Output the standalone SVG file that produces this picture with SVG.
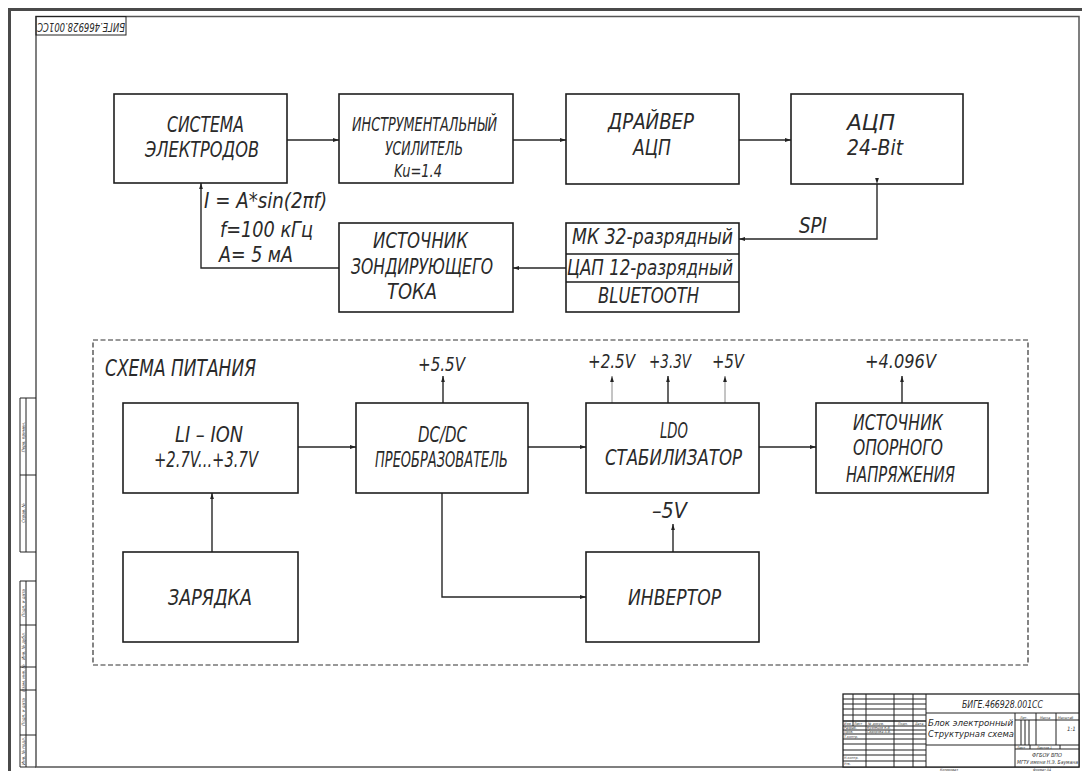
<svg xmlns="http://www.w3.org/2000/svg" width="1082" height="771" viewBox="0 0 1082 771">
<style>
.t{font-family:"Liberation Sans Narrow","DejaVu Sans Condensed","Liberation Sans",sans-serif;font-style:italic;fill:#2a2a2a}
.s{font-family:"Liberation Sans Narrow","DejaVu Sans Condensed","Liberation Sans",sans-serif;font-style:italic;fill:#333}
.box{fill:none;stroke:#1e1e1e;stroke-width:1.6}
.w{fill:none;stroke:#262626;stroke-width:1.4}
.wt{fill:none;stroke:#8a8a8a;stroke-width:1}
.fr{fill:none;stroke:#555;stroke-width:1.5}
.tb{fill:none;stroke:#222;stroke-width:1}
</style>
<defs>
<marker id="ar" markerWidth="6" markerHeight="5" refX="6" refY="2.5" orient="auto" markerUnits="userSpaceOnUse">
<path d="M0,0.6 L6,2.5 L0,4.4 z" fill="#222"/>
</marker>
</defs>
<rect width="1082" height="771" fill="#fff"/>
<!-- frame -->
<g id="frame">
<path d="M9.5,771 V9.5 H1082" fill="none" stroke="#4a4a4a" stroke-width="3"/>
<rect x="36" y="16.5" width="1043" height="750.5" class="fr"/>
<rect x="36" y="16.5" width="90" height="18.5" class="tb"/>
<text class="t" x="37" y="29.3" font-size="13" textLength="88" lengthAdjust="spacingAndGlyphs" transform="rotate(180 81 26)">БИГЕ.466928.001СС</text>
<path class="tb" d="M36,398 H20 V552 H36 M26,398 V552 M20,475 H36"/>
<path class="tb" d="M36,581 H20 V767 H36 M26,581 V767 M20,625 H36 M20,667 H36 M20,690 H36 M20,735 H36"/>
<g class="s" font-size="4.5" text-anchor="middle">
<text x="23" y="437" transform="rotate(-90 23 437)" dy="1.5">Перв. примен.</text>
<text x="23" y="513" transform="rotate(-90 23 513)" dy="1.5">Справ. №</text>
<text x="23" y="603" transform="rotate(-90 23 603)" dy="1.5">Подп. и дата</text>
<text x="23" y="646" transform="rotate(-90 23 646)" dy="1.5">Инв. № дубл.</text>
<text x="23" y="678" transform="rotate(-90 23 678)" dy="1.5">Взам. инв. №</text>
<text x="23" y="712" transform="rotate(-90 23 712)" dy="1.5">Подп. и дата</text>
<text x="23" y="751" transform="rotate(-90 23 751)" dy="1.5">Инв. № подл.</text>
</g>
</g>
<!-- title block -->
<g id="titleblock">
<rect x="843" y="694" width="236" height="73" fill="#fff" stroke="#222" stroke-width="1.3"/>
<path class="tb" d="M926,694 V767 M866,694 V767 M894,694 V767 M913,694 V767 M853,694 V726"/>
<path class="tb" d="M843,699 H926 M843,704 H926 M843,709 H926 M843,715 H926 M843,726 H926 M843,730 H926 M843,734 H926 M843,739 H926 M843,744 H926 M843,750 H926 M843,755 H926 M843,761 H926"/>
<path d="M843,721 H926" stroke="#222" stroke-width="1.6"/>
<path class="tb" d="M926,713 H1079 M926,745 H1079 M1015,720 H1079 M1015,749 H1079 M1015,713 V767 M1036,713 V745 M1056,713 V745 M1021,720 V745 M1025,720 V745 M1029,720 V745 M1030,745 V749 M1060,745 V749"/>
<g class="s" font-size="3.6">
<text x="844" y="724.5">Изм.</text><text x="854" y="724.5">Лист</text><text x="868" y="724.5">№ докум.</text><text x="898" y="724.5">Подп.</text><text x="915" y="724.5">Дата</text>
<text x="844" y="729">Разраб.</text><text x="867" y="729">Кузнецов К.В.</text>
<text x="844" y="733">Пров.</text><text x="867" y="733">Сидорова А.В.</text>
<text x="844" y="737.5">Т.контр.</text>
<text x="844" y="759">Н.контр.</text>
<text x="844" y="764.5">Утв.</text>
<text x="1020" y="718.5">Лит.</text><text x="1040" y="718.5">Масса</text><text x="1058" y="718.5">Масштаб</text>
<text x="1017" y="748.5">Лист</text><text x="1037" y="748.5">Листов 1</text>
</g>
<text class="t" x="962" y="707.5" font-size="11" textLength="81" lengthAdjust="spacingAndGlyphs">БИГЕ.466928.001СС</text>
<text class="t" x="928" y="726" font-size="9.5" textLength="85" lengthAdjust="spacingAndGlyphs">Блок электронный</text>
<text class="t" x="928" y="737" font-size="9.5" textLength="86" lengthAdjust="spacingAndGlyphs">Структурная схема</text>
<text class="s" x="1067" y="731" font-size="6">1:1</text>
<text class="s" x="1047" y="756.5" font-size="5.5" text-anchor="middle">ФГБОУ ВПО</text>
<text class="s" x="1017" y="763.5" font-size="5.5" textLength="61" lengthAdjust="spacingAndGlyphs">МГТУ имени Н.Э. Баумана</text>
<text class="s" x="940" y="770.6" font-size="3.5">Копировал</text>
<text class="s" x="1033" y="770.6" font-size="3.5">Формат A4</text>
</g>
<!-- connectors -->
<g id="connectors">
<path class="w" d="M287,140 H339" marker-end="url(#ar)"/>
<path class="w" d="M513,140 H566" marker-end="url(#ar)"/>
<path class="w" d="M739,140 H791" marker-end="url(#ar)"/>
<path class="w" d="M877,184 V239 H739" marker-start="url(#ar)" marker-end="url(#ar)"/>
<path class="w" d="M566,268 H513" marker-end="url(#ar)"/>
<path class="w" d="M339,268 H201 V183" marker-end="url(#ar)"/>
<path class="w" d="M298,447 H356" marker-end="url(#ar)"/>
<path class="w" d="M528,447 H586" marker-end="url(#ar)"/>
<path class="w" d="M759,447 H816" marker-end="url(#ar)"/>
<path class="w" d="M212,552 V493" marker-end="url(#ar)"/>
<path class="w" d="M442,493 V597 H586" marker-end="url(#ar)"/>
<path class="w" d="M443,403 V376" marker-end="url(#ar)"/>
<path class="wt" d="M612,403 V376" marker-end="url(#ar)"/>
<path class="w" d="M668,403 V376" marker-end="url(#ar)"/>
<path class="wt" d="M725,403 V376" marker-end="url(#ar)"/>
<path class="w" d="M902,403 V376" marker-end="url(#ar)"/>
<path class="w" d="M673,552 V524" marker-end="url(#ar)"/>
</g>
<!-- top section -->
<g id="n_electrodes">
<rect class="box" x="114" y="94" width="173" height="89"/>
<text class="t" x="167" y="132" font-size="21" textLength="77" lengthAdjust="spacingAndGlyphs">СИСТЕМА</text>
<text class="t" x="145" y="157" font-size="21" textLength="114" lengthAdjust="spacingAndGlyphs">ЭЛЕКТРОДОВ</text>
</g>
<g id="n_amp">
<rect class="box" x="339" y="94" width="174" height="89"/>
<text class="t" x="352" y="131" font-size="20" textLength="145" lengthAdjust="spacingAndGlyphs">ИНСТРУМЕНТАЛЬНЫЙ</text>
<text class="t" x="385" y="155" font-size="20" textLength="78" lengthAdjust="spacingAndGlyphs">УСИЛИТЕЛЬ</text>
<text class="t" x="394" y="177" font-size="18" textLength="48" lengthAdjust="spacingAndGlyphs">Ku=1.4</text>
</g>
<g id="n_driver">
<rect class="box" x="566" y="94" width="173" height="90"/>
<text class="t" x="608" y="129" font-size="21" textLength="86" lengthAdjust="spacingAndGlyphs">ДРАЙВЕР</text>
<text class="t" x="633" y="155" font-size="21" textLength="38" lengthAdjust="spacingAndGlyphs">АЦП</text>
</g>
<g id="n_adc">
<rect class="box" x="791" y="94" width="172" height="90"/>
<text class="t" x="847" y="130" font-size="21" textLength="48" lengthAdjust="spacingAndGlyphs">АЦП</text>
<text class="t" x="847" y="155" font-size="21" textLength="56" lengthAdjust="spacingAndGlyphs">24-Bit</text>
</g>
<g id="n_source">
<rect class="box" x="339" y="223" width="174" height="89"/>
<text class="t" x="373" y="248" font-size="21" textLength="95" lengthAdjust="spacingAndGlyphs">ИСТОЧНИК</text>
<text class="t" x="351" y="274" font-size="21" textLength="142" lengthAdjust="spacingAndGlyphs">ЗОНДИРУЮЩЕГО</text>
<text class="t" x="387" y="299" font-size="21" textLength="50" lengthAdjust="spacingAndGlyphs">ТОКА</text>
</g>
<g id="n_mcu">
<rect class="box" x="566" y="223" width="173" height="89"/>
<path class="box" d="M566,254 H739 M566,282 H739"/>
<text class="t" x="572" y="244" font-size="21" textLength="161" lengthAdjust="spacingAndGlyphs">МК 32-разрядный</text>
<text class="t" x="567" y="275" font-size="21" textLength="166" lengthAdjust="spacingAndGlyphs">ЦАП 12-разрядный</text>
<text class="t" x="598" y="303" font-size="21" textLength="101" lengthAdjust="spacingAndGlyphs">BLUETOOTH</text>
</g>
<g id="labels_top">
<text class="t" x="204" y="208" font-size="22" textLength="123" lengthAdjust="spacingAndGlyphs">I = A*sin(2πf)</text>
<text class="t" x="220" y="237" font-size="22" textLength="93" lengthAdjust="spacingAndGlyphs">f=100 кГц</text>
<text class="t" x="219" y="262" font-size="21" textLength="74" lengthAdjust="spacingAndGlyphs">A= 5 мА</text>
<text class="t" x="799" y="233" font-size="21" textLength="28" lengthAdjust="spacingAndGlyphs">SPI</text>
</g>
<!-- power section -->
<g id="n_power">
<rect x="93" y="340" width="935" height="325" fill="none" stroke="#333" stroke-width="1.2" stroke-dasharray="5,2.5"/>
<text class="t" x="105" y="376" font-size="23" textLength="151" lengthAdjust="spacingAndGlyphs">СХЕМА ПИТАНИЯ</text>
</g>
<g id="n_liion">
<rect class="box" x="123" y="403" width="175" height="90"/>
<text class="t" x="175" y="442" font-size="21" textLength="68" lengthAdjust="spacingAndGlyphs">LI – ION</text>
<text class="t" x="154" y="467" font-size="21" textLength="104" lengthAdjust="spacingAndGlyphs">+2.7V...+3.7V</text>
</g>
<g id="n_dcdc">
<rect class="box" x="356" y="403" width="172" height="90"/>
<text class="t" x="418" y="442" font-size="21" textLength="49" lengthAdjust="spacingAndGlyphs">DC/DC</text>
<text class="t" x="375" y="467" font-size="21" textLength="133" lengthAdjust="spacingAndGlyphs">ПРЕОБРАЗОВАТЕЛЬ</text>
<text class="t" x="418" y="371" font-size="19" textLength="47" lengthAdjust="spacingAndGlyphs">+5.5V</text>
</g>
<g id="n_ldo">
<rect class="box" x="586" y="403" width="173" height="90"/>
<text class="t" x="660" y="438" font-size="21" textLength="28" lengthAdjust="spacingAndGlyphs">LDO</text>
<text class="t" x="605" y="465" font-size="22" textLength="137" lengthAdjust="spacingAndGlyphs">СТАБИЛИЗАТОР</text>
<text class="t" x="588" y="368" font-size="19" textLength="47" lengthAdjust="spacingAndGlyphs">+2.5V</text>
<text class="t" x="649" y="368" font-size="19" textLength="42" lengthAdjust="spacingAndGlyphs">+3.3V</text>
<text class="t" x="712" y="368" font-size="19" textLength="32" lengthAdjust="spacingAndGlyphs">+5V</text>
</g>
<g id="n_ref">
<rect class="box" x="816" y="403" width="172" height="90"/>
<text class="t" x="853" y="430" font-size="22" textLength="90" lengthAdjust="spacingAndGlyphs">ИСТОЧНИК</text>
<text class="t" x="853" y="455" font-size="22" textLength="90" lengthAdjust="spacingAndGlyphs">ОПОРНОГО</text>
<text class="t" x="846" y="482" font-size="22" textLength="109" lengthAdjust="spacingAndGlyphs">НАПРЯЖЕНИЯ</text>
<text class="t" x="865" y="368" font-size="19" textLength="71" lengthAdjust="spacingAndGlyphs">+4.096V</text>
</g>
<g id="n_charger">
<rect class="box" x="123" y="552" width="175" height="90"/>
<text class="t" x="168" y="605" font-size="21" textLength="84" lengthAdjust="spacingAndGlyphs">ЗАРЯДКА</text>
</g>
<g id="n_inverter">
<rect class="box" x="586" y="552" width="173" height="90"/>
<text class="t" x="628" y="605" font-size="21" textLength="93" lengthAdjust="spacingAndGlyphs">ИНВЕРТОР</text>
<text class="t" x="652" y="518" font-size="21" textLength="35" lengthAdjust="spacingAndGlyphs">–5V</text>
</g>
</svg>
